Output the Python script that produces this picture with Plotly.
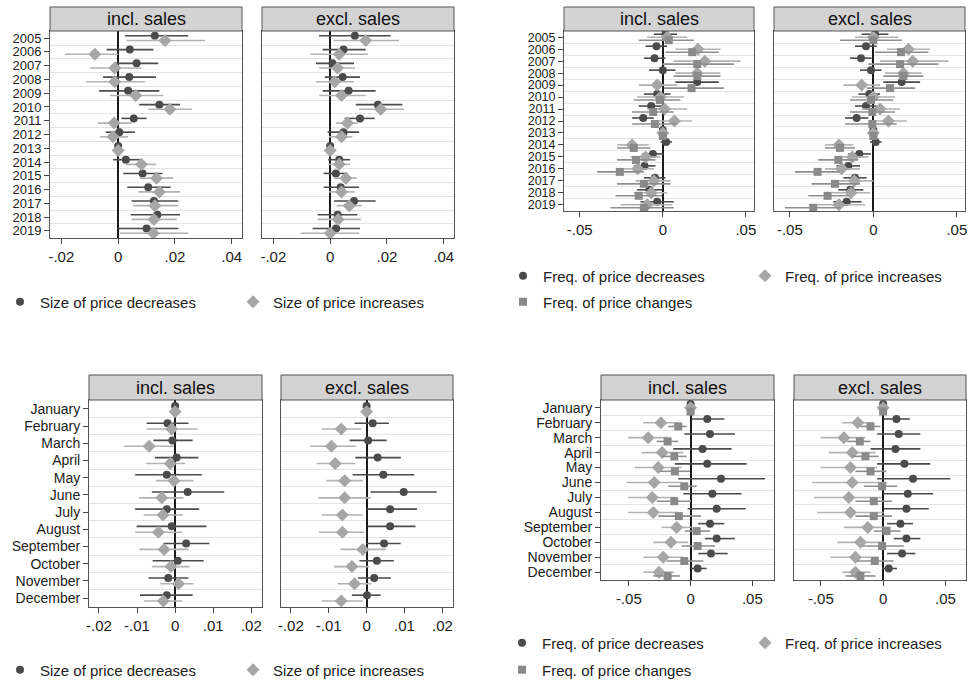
import plotly.graph_objects as go

W, H = 968, 682

# ---------------- categories / tick labels ----------------
years = ["2005", "2006", "2007", "2008", "2009", "2010", "2011", "2012",
         "2013", "2014", "2015", "2016", "2017", "2018", "2019"]
months = ["January", "February", "March", "April", "May", "June", "July",
          "August", "September", "October", "November", "December"]

tl_ticks = [-0.02, 0, 0.02, 0.04]
tl_ticktext = ["-.02", "0", ".02", ".04"]
tr_ticks = [-0.05, 0, 0.05]
tr_ticktext = ["-.05", "0", ".05"]
bl_ticks = [-0.02, -0.01, 0, 0.01, 0.02]
bl_ticktext = ["-.02", "-.01", "0", ".01", ".02"]
br_ticks = [-0.05, 0, 0.05]
br_ticktext = ["-.05", "0", ".05"]

# ---------------- top-left: size, by year ----------------
sy_in_dec = [0.0129, 0.0041, 0.0065, 0.0039, 0.0035, 0.0145, 0.0055, 0.0004, 0, 0.0027, 0.0086, 0.0106, 0.0126, 0.0138, 0.0100]
sy_in_dec_lo = [0.0024, -0.0041, -0.0012, -0.0053, -0.0067, 0.0074, 0.0012, -0.0044, 0, -0.0018, 0.0018, 0.0032, 0.0047, 0.0044, 0.0000]
sy_in_dec_hi = [0.0247, 0.0124, 0.0141, 0.0133, 0.0145, 0.0218, 0.0100, 0.0059, 0, 0.0076, 0.0156, 0.0185, 0.0212, 0.0218, 0.0212]
sy_in_inc = [0.0165, -0.0082, -0.0012, -0.0012, 0.0062, 0.0182, -0.0014, -0.0018, 0, 0.0082, 0.0135, 0.0145, 0.0129, 0.0126, 0.0124]
sy_in_inc_lo = [0.0029, -0.0188, -0.0098, -0.0114, -0.0029, 0.0106, -0.0071, -0.0065, 0, 0.0027, 0.0076, 0.0071, 0.0053, 0.0047, 0.0006]
sy_in_inc_hi = [0.0306, 0.0000, 0.0082, 0.0094, 0.0159, 0.0259, 0.0047, 0.0035, 0, 0.0135, 0.0194, 0.0218, 0.0212, 0.0206, 0.0247]

sy_ex_dec = [0.0087, 0.0047, 0.0008, 0.0044, 0.0065, 0.0168, 0.0105, 0.0047, 0, 0.0032, 0.0020, 0.0037, 0.0084, 0.0026, 0.0021]
sy_ex_dec_lo = [-0.0039, -0.0027, -0.0050, -0.0019, -0.0027, 0.0090, 0.0051, -0.0009, 0, -0.0007, -0.0023, -0.0023, 0.0014, -0.0044, -0.0062]
sy_ex_dec_hi = [0.0213, 0.0125, 0.0084, 0.0105, 0.0160, 0.0254, 0.0157, 0.0102, 0, 0.0070, 0.0061, 0.0102, 0.0160, 0.0096, 0.0105]
sy_ex_inc = [0.0125, 0.0032, 0.0026, 0.0016, 0.0040, 0.0178, 0.0061, 0.0040, 0, 0.0032, 0.0055, 0.0040, 0.0067, 0.0028, 0.0000]
sy_ex_inc_lo = [0.0012, -0.0070, -0.0039, -0.0050, -0.0039, 0.0102, 0.0020, -0.0004, 0, -0.0007, 0.0014, -0.0004, 0.0023, -0.0044, -0.0103]
sy_ex_inc_hi = [0.0242, 0.0133, 0.0087, 0.0084, 0.0125, 0.0260, 0.0098, 0.0078, 0, 0.0070, 0.0094, 0.0087, 0.0113, 0.0108, 0.0102]

# ---------------- top-right: frequency, by year ----------------
fy_in_dec = [0.0016, -0.0038, -0.0050, 0.0000, 0.0207, -0.0034, -0.0070, -0.0118, 0, 0.0020, -0.0060, -0.0110, -0.0048, -0.0080, -0.0034]
fy_in_dec_lo = [-0.0054, -0.0104, -0.0114, -0.0084, 0.0076, -0.0114, -0.0145, -0.0185, 0, -0.0014, -0.0124, -0.0175, -0.0114, -0.0155, -0.0135]
fy_in_dec_hi = [0.0086, 0.0026, 0.0016, 0.0076, 0.0337, 0.0046, -0.0004, -0.0054, 0, 0.0056, 0.0006, -0.0044, 0.0016, -0.0004, 0.0066]
fy_in_inc = [0.0026, 0.0211, 0.0253, 0.0207, -0.0034, -0.0014, 0.0010, 0.0070, 0, -0.0185, -0.0104, -0.0151, -0.0054, -0.0070, -0.0094]
fy_in_inc_lo = [-0.0094, 0.0076, 0.0066, 0.0076, -0.0145, -0.0155, -0.0094, -0.0034, 0, -0.0275, -0.0195, -0.0245, -0.0165, -0.0175, -0.0255]
fy_in_inc_hi = [0.0147, 0.0347, 0.0468, 0.0347, 0.0086, 0.0127, 0.0147, 0.0177, 0, -0.0084, -0.0014, -0.0054, 0.0046, 0.0026, 0.0056]
fy_in_chg = [0.0036, 0.0177, 0.0207, 0.0207, 0.0173, -0.0018, -0.0058, -0.0048, 0, -0.0175, -0.0161, -0.0259, -0.0114, -0.0145, -0.0114]
fy_in_chg_lo = [-0.0145, 0.0016, -0.0004, 0.0066, 0.0006, -0.0175, -0.0185, -0.0185, 0, -0.0275, -0.0275, -0.0396, -0.0275, -0.0285, -0.0315]
fy_in_chg_hi = [0.0187, 0.0337, 0.0428, 0.0347, 0.0367, 0.0106, 0.0066, 0.0086, 0, -0.0074, -0.0044, -0.0114, 0.0046, -0.0004, 0.0066]

fy_ex_dec = [0.0010, -0.0044, -0.0074, -0.0014, 0.0170, -0.0024, -0.0044, -0.0100, 0, 0.0014, -0.0084, -0.0150, -0.0110, -0.0138, -0.0160]
fy_ex_dec_lo = [-0.0070, -0.0110, -0.0140, -0.0080, 0.0060, -0.0090, -0.0110, -0.0170, 0, -0.0020, -0.0150, -0.0220, -0.0180, -0.0210, -0.0240]
fy_ex_dec_hi = [0.0090, 0.0020, -0.0010, 0.0050, 0.0280, 0.0040, 0.0020, -0.0030, 0, 0.0050, -0.0014, -0.0080, -0.0040, -0.0060, -0.0070]
fy_ex_inc = [0.0000, 0.0210, 0.0236, 0.0180, -0.0070, 0.0000, 0.0040, 0.0090, 0, -0.0206, -0.0126, -0.0190, -0.0114, -0.0134, -0.0206]
fy_ex_inc_lo = [-0.0110, 0.0080, 0.0040, 0.0070, -0.0180, -0.0130, -0.0070, -0.0010, 0, -0.0290, -0.0220, -0.0290, -0.0230, -0.0250, -0.0370]
fy_ex_inc_hi = [0.0150, 0.0340, 0.0450, 0.0290, 0.0040, 0.0130, 0.0160, 0.0200, 0, -0.0120, -0.0030, -0.0080, 0.0000, -0.0020, -0.0050]
fy_ex_chg = [0.0000, 0.0166, 0.0160, 0.0180, 0.0100, -0.0014, -0.0006, -0.0006, 0, -0.0200, -0.0210, -0.0334, -0.0230, -0.0274, -0.0360]
fy_ex_chg_lo = [-0.0200, 0.0010, -0.0030, 0.0060, -0.0040, -0.0140, -0.0140, -0.0170, 0, -0.0290, -0.0330, -0.0470, -0.0370, -0.0390, -0.0530]
fy_ex_chg_hi = [0.0170, 0.0330, 0.0390, 0.0300, 0.0250, 0.0120, 0.0130, 0.0140, 0, -0.0110, -0.0090, -0.0200, -0.0080, -0.0150, -0.0200]

# ---------------- bottom-left: size, by month ----------------
sm_in_dec = [0, -0.0020, -0.0007, 0.0004, -0.0022, 0.0033, -0.0022, -0.0009, 0.0029, 0.0007, -0.0018, -0.0022]
sm_in_dec_lo = [0, -0.0075, -0.0057, -0.0053, -0.0105, -0.0061, -0.0105, -0.0101, -0.0031, -0.0059, -0.0070, -0.0092]
sm_in_dec_hi = [0, 0.0035, 0.0046, 0.0061, 0.0070, 0.0129, 0.0063, 0.0082, 0.0090, 0.0075, 0.0035, 0.0046]
sm_in_inc = [0, -0.0009, -0.0068, -0.0013, -0.0003, -0.0035, -0.0032, -0.0044, -0.0029, -0.0011, 0.0009, -0.0031]
sm_in_inc_lo = [0, -0.0075, -0.0134, -0.0076, -0.0050, -0.0094, -0.0083, -0.0105, -0.0094, -0.0061, -0.0039, -0.0082]
sm_in_inc_hi = [0, 0.0059, -0.0004, 0.0026, 0.0048, 0.0022, 0.0020, 0.0018, 0.0035, 0.0038, 0.0048, 0.0018]

sm_ex_dec = [0, 0.0016, 0.0004, 0.0029, 0.0044, 0.0098, 0.0062, 0.0062, 0.0046, 0.0027, 0.0020, 0.0001]
sm_ex_dec_lo = [0, -0.0032, -0.0045, -0.0030, -0.0037, 0.0010, 0.0001, 0.0003, -0.0002, -0.0019, -0.0023, -0.0039]
sm_ex_dec_hi = [0, 0.0059, 0.0053, 0.0090, 0.0126, 0.0185, 0.0133, 0.0129, 0.0090, 0.0072, 0.0064, 0.0037]
sm_ex_inc = [0, -0.0067, -0.0093, -0.0083, -0.0058, -0.0058, -0.0064, -0.0064, -0.0010, -0.0039, -0.0032, -0.0067]
sm_ex_inc_lo = [0, -0.0119, -0.0150, -0.0132, -0.0106, -0.0128, -0.0119, -0.0126, -0.0069, -0.0086, -0.0077, -0.0119]
sm_ex_inc_hi = [0, -0.0015, -0.0028, -0.0030, -0.0010, 0.0011, -0.0010, -0.0006, 0.0050, 0.0007, 0.0013, -0.0010]

# ---------------- bottom-right: frequency, by month ----------------
fm_in_dec = [0, 0.0135, 0.0157, 0.0097, 0.0135, 0.0246, 0.0176, 0.0211, 0.0157, 0.0211, 0.0165, 0.0057]
fm_in_dec_lo = [0, 0.0008, -0.0051, -0.0140, -0.0127, -0.0100, -0.0059, -0.0024, 0.0062, 0.0116, 0.0062, 0.0005]
fm_in_dec_hi = [0, 0.0273, 0.0359, 0.0332, 0.0454, 0.0602, 0.0413, 0.0446, 0.0273, 0.0359, 0.0300, 0.0130]
fm_in_inc = [0, -0.0240, -0.0343, -0.0230, -0.0262, -0.0294, -0.0310, -0.0302, -0.0113, -0.0159, -0.0221, -0.0256]
fm_in_inc_lo = [0, -0.0383, -0.0505, -0.0397, -0.0451, -0.0518, -0.0505, -0.0505, -0.0235, -0.0302, -0.0383, -0.0383]
fm_in_inc_hi = [0, -0.0100, -0.0181, -0.0059, -0.0073, -0.0073, -0.0113, -0.0100, 0.0008, -0.0019, -0.0059, -0.0132]
fm_in_chg = [0, -0.0100, -0.0186, -0.0132, -0.0127, -0.0051, -0.0132, -0.0095, 0.0049, 0.0057, -0.0051, -0.0186]
fm_in_chg_lo = [0, -0.0181, -0.0275, -0.0235, -0.0248, -0.0181, -0.0275, -0.0262, -0.0046, -0.0073, -0.0194, -0.0302]
fm_in_chg_hi = [0, -0.0032, -0.0100, -0.0032, -0.0005, 0.0049, 0.0003, 0.0084, 0.0157, 0.0197, 0.0103, -0.0086]

fm_ex_dec = [0, 0.0107, 0.0125, 0.0099, 0.0171, 0.0240, 0.0198, 0.0187, 0.0139, 0.0187, 0.0152, 0.0045]
fm_ex_dec_lo = [0, 0.0005, -0.0048, -0.0101, -0.0048, -0.0048, 0.0005, 0.0005, 0.0032, 0.0085, 0.0032, -0.0008]
fm_ex_dec_hi = [0, 0.0214, 0.0299, 0.0299, 0.0379, 0.0539, 0.0400, 0.0366, 0.0240, 0.0299, 0.0259, 0.0112]
fm_ex_inc = [0, -0.0203, -0.0315, -0.0248, -0.0262, -0.0248, -0.0275, -0.0262, -0.0123, -0.0182, -0.0222, -0.0222]
fm_ex_inc_lo = [0, -0.0328, -0.0502, -0.0435, -0.0502, -0.0569, -0.0555, -0.0529, -0.0315, -0.0368, -0.0422, -0.0328]
fm_ex_inc_hi = [0, -0.0075, -0.0142, -0.0061, -0.0048, 0.0032, -0.0008, 0.0005, 0.0059, 0.0005, -0.0035, -0.0101]
fm_ex_chg = [0, -0.0101, -0.0187, -0.0142, -0.0101, -0.0008, -0.0075, -0.0075, 0.0027, -0.0008, -0.0067, -0.0182]
fm_ex_chg_lo = [0, -0.0182, -0.0288, -0.0248, -0.0222, -0.0155, -0.0222, -0.0222, -0.0075, -0.0168, -0.0208, -0.0302]
fm_ex_chg_hi = [0, -0.0021, -0.0101, -0.0035, 0.0027, 0.0112, 0.0072, 0.0072, 0.0139, 0.0166, 0.0085, -0.0061]

# ---------------- styling ----------------
FONT = "Liberation Sans, Arial, sans-serif"
STY = {
    "dec": dict(symbol="circle", color="#4b4b4b", size=8, ecolor="#4b4b4b"),
    "inc": dict(symbol="diamond", color="#a6a6a6", size=10, ecolor="#b2b2b2"),
    "chg": dict(symbol="square", color="#8a8a8a", size=8, ecolor="#8e8e8e"),
}


def px(x):
    return x / W


def py(y):
    return 1 - y / H


S_DEC, S_INC = "Size of price decreases", "Size of price increases"
F_DEC, F_INC, F_CHG = "Freq. of price decreases", "Freq. of price increases", "Freq. of price changes"

# legend placement (marker centre x in px, row centre y in px)
legend_pos = {
    "legend": (20, 302), "legend2": (253, 302),
    "legend3": (523, 276), "legend4": (765, 276), "legend5": (523, 302),
    "legend6": (20, 670), "legend7": (253, 670),
    "legend8": (522, 643), "legend9": (765, 643), "legend10": (522, 670),
}

panels = [
    # top-left
    dict(x0=50, x1=242, ht=7, pt=31, pb=238, xr=[-0.024, 0.0436], tv=tl_ticks, tt=tl_ticktext,
         cats=years, title="incl. sales", ylab=True, yfs=13, off2=0.17,
         series=[(S_DEC, sy_in_dec, sy_in_dec_lo, sy_in_dec_hi, "dec", "legend"),
                 (S_INC, sy_in_inc, sy_in_inc_lo, sy_in_inc_hi, "inc", "legend2")]),
    dict(x0=262, x1=454, ht=7, pt=31, pb=238, xr=[-0.024, 0.0436], tv=tl_ticks, tt=tl_ticktext,
         cats=years, title="excl. sales", ylab=False, yfs=13, off2=0.17,
         series=[(S_DEC, sy_ex_dec, sy_ex_dec_lo, sy_ex_dec_hi, "dec", None),
                 (S_INC, sy_ex_inc, sy_ex_inc_lo, sy_ex_inc_hi, "inc", None)]),
    # top-right
    dict(x0=564, x1=754, ht=7, pt=31, pb=211, xr=[-0.0595, 0.0549], tv=tr_ticks, tt=tr_ticktext,
         cats=years, title="incl. sales", ylab=True, yfs=12.5, off2=0.25,
         series=[(F_DEC, fy_in_dec, fy_in_dec_lo, fy_in_dec_hi, "dec", "legend3"),
                 (F_INC, fy_in_inc, fy_in_inc_lo, fy_in_inc_hi, "inc", "legend4"),
                 (F_CHG, fy_in_chg, fy_in_chg_lo, fy_in_chg_hi, "chg", "legend5")]),
    dict(x0=774, x1=965, ht=7, pt=31, pb=211, xr=[-0.0595, 0.0549], tv=tr_ticks, tt=tr_ticktext,
         cats=years, title="excl. sales", ylab=False, yfs=12.5, off2=0.25,
         series=[(F_DEC, fy_ex_dec, fy_ex_dec_lo, fy_ex_dec_hi, "dec", None),
                 (F_INC, fy_ex_inc, fy_ex_inc_lo, fy_ex_inc_hi, "inc", None),
                 (F_CHG, fy_ex_chg, fy_ex_chg_lo, fy_ex_chg_hi, "chg", None)]),
    # bottom-left
    dict(x0=89, x1=262, ht=375, pt=400, pb=607, xr=[-0.0226, 0.0228], tv=bl_ticks, tt=bl_ticktext,
         cats=months, title="incl. sales", ylab=True, yfs=14, off2=0.17,
         series=[(S_DEC, sm_in_dec, sm_in_dec_lo, sm_in_dec_hi, "dec", "legend6"),
                 (S_INC, sm_in_inc, sm_in_inc_lo, sm_in_inc_hi, "inc", "legend7")]),
    dict(x0=281, x1=453, ht=375, pt=400, pb=607, xr=[-0.0226, 0.0228], tv=bl_ticks, tt=bl_ticktext,
         cats=months, title="excl. sales", ylab=False, yfs=14, off2=0.17,
         series=[(S_DEC, sm_ex_dec, sm_ex_dec_lo, sm_ex_dec_hi, "dec", None),
                 (S_INC, sm_ex_inc, sm_ex_inc_lo, sm_ex_inc_hi, "inc", None)]),
    # bottom-right
    dict(x0=601, x1=774, ht=375, pt=400, pb=580, xr=[-0.0725, 0.0675], tv=br_ticks, tt=br_ticktext,
         cats=months, title="incl. sales", ylab=True, yfs=14, off2=0.25,
         series=[(F_DEC, fm_in_dec, fm_in_dec_lo, fm_in_dec_hi, "dec", "legend8"),
                 (F_INC, fm_in_inc, fm_in_inc_lo, fm_in_inc_hi, "inc", "legend9"),
                 (F_CHG, fm_in_chg, fm_in_chg_lo, fm_in_chg_hi, "chg", "legend10")]),
    dict(x0=794, x1=966, ht=375, pt=400, pb=580, xr=[-0.0715, 0.0665], tv=br_ticks, tt=br_ticktext,
         cats=months, title="excl. sales", ylab=False, yfs=14, off2=0.25,
         series=[(F_DEC, fm_ex_dec, fm_ex_dec_lo, fm_ex_dec_hi, "dec", None),
                 (F_INC, fm_ex_inc, fm_ex_inc_lo, fm_ex_inc_hi, "inc", None),
                 (F_CHG, fm_ex_chg, fm_ex_chg_lo, fm_ex_chg_hi, "chg", None)]),
]

fig = go.Figure()
layout = dict(shapes=[], annotations=[])

for i, p in enumerate(panels, start=1):
    xa = "x" if i == 1 else f"x{i}"
    ya = "y" if i == 1 else f"y{i}"
    xk = "xaxis" if i == 1 else f"xaxis{i}"
    yk = "yaxis" if i == 1 else f"yaxis{i}"
    n = len(p["cats"])
    yr = [n - 1 + 0.52, -0.52]

    layout[xk] = dict(
        domain=[px(p["x0"]), px(p["x1"])], anchor=ya, range=p["xr"],
        tickmode="array", tickvals=p["tv"], ticktext=p["tt"],
        ticks="outside", ticklen=5, tickcolor="#444", tickfont=dict(size=15, color="#222", family=FONT),
        showgrid=False, zeroline=True, zerolinecolor="#1a1a1a", zerolinewidth=1.6,
        showline=True, mirror=True, linecolor="#555", linewidth=1,
    )
    layout[yk] = dict(
        domain=[py(p["pb"]), py(p["pt"])], anchor=xa, range=yr, autorange=False,
        tickmode="array", tickvals=list(range(n)), ticktext=p["cats"],
        showticklabels=p["ylab"], ticks="outside" if p["ylab"] else "", ticklen=5, tickcolor="#444",
        tickfont=dict(size=p["yfs"], color="#222", family=FONT),
        showgrid=False, zeroline=False,
        showline=True, mirror=True, linecolor="#555", linewidth=1,
        minor=dict(tickmode="array", tickvals=[k + 0.5 for k in range(n - 1)],
                   showgrid=True, gridcolor="#e4e4e4", gridwidth=1, ticks=""),
    )

    k = len(p["series"])
    offs = [-p["off2"], p["off2"]] if k == 2 else [-p["off2"], 0.0, p["off2"]]
    for (name, vals, lo, hi, kind, leg), off in zip(p["series"], offs):
        st = STY[kind]
        trace = dict(
            x=vals, y=[j + off for j in range(n)], xaxis=xa, yaxis=ya,
            mode="markers", name=name,
            marker=dict(symbol=st["symbol"], color=st["color"], size=st["size"], line=dict(width=0)),
            error_x=dict(type="data", symmetric=False,
                         array=[h - v for h, v in zip(hi, vals)],
                         arrayminus=[v - l for v, l in zip(vals, lo)],
                         color=st["ecolor"], thickness=1.6, width=0),
            hoverinfo="skip",
            showlegend=leg is not None,
        )
        if leg is not None:
            trace["legend"] = leg
        fig.add_trace(go.Scatter(**trace))

    # header strip
    layout["shapes"].append(dict(type="rect", xref="paper", yref="paper",
                                 x0=px(p["x0"]), x1=px(p["x1"]), y0=py(p["pt"]), y1=py(p["ht"]),
                                 fillcolor="#d3d3d3", line=dict(color="#555", width=1), layer="above"))
    layout["annotations"].append(dict(xref="paper", yref="paper", x=px((p["x0"] + p["x1"]) / 2),
                                      y=py((p["ht"] + p["pt"]) / 2), text=p["title"], showarrow=False,
                                      xanchor="center", yanchor="middle",
                                      font=dict(size=18, color="#111", family=FONT)))

for lid, (mx, my) in legend_pos.items():
    layout[lid] = dict(orientation="h", xanchor="left", yanchor="middle", bgcolor="rgba(0,0,0,0)",
                       font=dict(size=15, color="#222", family=FONT),
                       x=px(mx - 20), y=py(my), itemclick=False, itemdoubleclick=False)

fig.update_layout(
    width=W, height=H, margin=dict(l=0, r=0, t=0, b=0, autoexpand=False),
    paper_bgcolor="white", plot_bgcolor="white",
    font=dict(family=FONT, color="#222"),
    **layout,
)

# remove the default page margin so the figure sits at the window's top-left corner
fig.write_html("out.html",
               config={"displayModeBar": False},
               post_script="document.body.style.margin='0';document.body.style.overflow='hidden';")
